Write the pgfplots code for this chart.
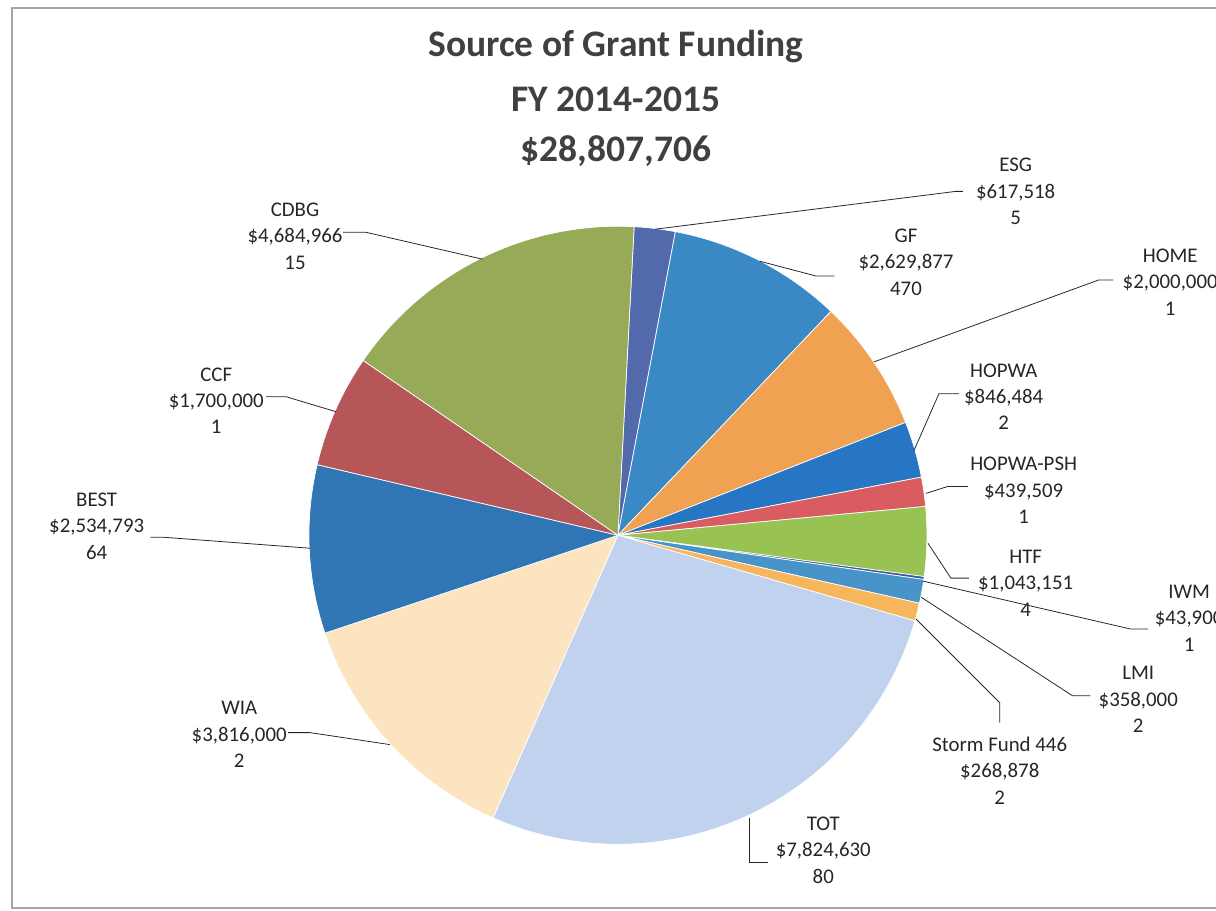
\documentclass[border=0pt]{standalone}
\usepackage{pgfplots}
\usepackage{pgfplotstable}
\pgfplotsset{compat=1.18}
\usepackage{fontspec}
\setmainfont{Carlito}

% slice colours, clockwise from the top
\definecolor{sc0}{RGB}{82,106,172}
\definecolor{sc1}{RGB}{58,137,196}
\definecolor{sc2}{RGB}{240,162,82}
\definecolor{sc3}{RGB}{38,118,196}
\definecolor{sc4}{RGB}{216,92,96}
\definecolor{sc5}{RGB}{152,194,82}
\definecolor{sc6}{RGB}{60,90,160}
\definecolor{sc7}{RGB}{72,148,200}
\definecolor{sc8}{RGB}{248,182,92}
\definecolor{sc9}{RGB}{192,210,238}
\definecolor{sc10}{RGB}{252,228,192}
\definecolor{sc11}{RGB}{48,118,180}
\definecolor{sc12}{RGB}{182,86,88}
\definecolor{sc13}{RGB}{150,170,88}
\definecolor{titlegray}{RGB}{64,64,64}

\tikzset{
  lbl/.style={font=\fontsize{11.9}{15.1}\selectfont, align=center, inner sep=0pt, text=black!85},
  ldr/.style={black!85, line width=0.45pt},
}

\pgfplotstableread{
name value count
ESG 617518 5
GF 2629877 470
HOME 2000000 1
HOPWA 846484 2
HOPWA-PSH 439509 1
HTF 1043151 4
IWM 43900 1
LMI 358000 2
Storm 268878 2
TOT 7824630 80
WIA 3816000 2
BEST 2534793 64
CCF 1700000 1
CDBG 4684966 15
}\grants
\pgfplotstablecreatecol[expr accum={\pgfmathaccuma + \thisrow{value}}{0}]{cum}{\grants}

\begin{document}
% slice angles (clockwise, first slice starting near 12 o'clock)
\foreach \i in {0,...,13}{%
  \pgfplotstablegetelem{\i}{cum}\of\grants \let\cumv\pgfplotsretval
  \pgfplotstablegetelem{\i}{value}\of\grants \let\valv\pgfplotsretval
  \pgfkeys{/pgf/fpu=true,/pgf/fpu/output format=fixed}%
  \pgfmathparse{87-360*\cumv/28807706}%
  \expandafter\xdef\csname endA\i\endcsname{\pgfmathresult}%
  \pgfmathparse{87-360*(\cumv-\valv)/28807706}%
  \expandafter\xdef\csname startA\i\endcsname{\pgfmathresult}%
  \pgfkeys{/pgf/fpu=false}%
}
\begin{tikzpicture}
\begin{axis}[
    scale only axis,
    width=24.32cm, height=18.26cm,
    xmin=0, xmax=1216, ymin=0, ymax=913,
    y dir=reverse,
    hide axis,
    clip=false,
]
% frame
\draw[black!35, line width=0.8pt] (axis cs:1240,8) -- (axis cs:8,8) -- (axis cs:8,911) -- (axis cs:1240,911);

% pie
\pgfplotsinvokeforeach{0,...,13}{
  \fill[sc#1, draw=white, line width=0.4pt] (axis cs:616,537) -- ++(\csname startA#1\endcsname:6.2cm)
    arc[start angle=\csname startA#1\endcsname, end angle=\csname endA#1\endcsname, radius=6.2cm] -- cycle;
}

% title
\node[font=\fontsize{21.4}{25}\selectfont\bfseries, text=titlegray] at (axis cs:614,47) {Source of Grant Funding};
\node[font=\fontsize{21.4}{25}\selectfont\bfseries, text=titlegray] at (axis cs:614,100) {FY 2014-2015};
\node[font=\fontsize{21.4}{25}\selectfont\bfseries, text=titlegray] at (axis cs:614,152) {\$28,807,706};

% leader lines
\draw[ldr] (axis cs:653,230) -- (axis cs:955,192) -- (axis cs:962,192);
\draw[ldr] (axis cs:758,262) -- (axis cs:815,277) -- (axis cs:833,277);
\draw[ldr] (axis cs:873,363) -- (axis cs:1098,281) -- (axis cs:1113,281);
\draw[ldr] (axis cs:913,452) -- (axis cs:938,395) -- (axis cs:958,395);
\draw[ldr] (axis cs:925,495) -- (axis cs:947,488) -- (axis cs:967,488);
\draw[ldr] (axis cs:927,545) -- (axis cs:950,580) -- (axis cs:968,580);
\draw[ldr] (axis cs:922,583) -- (axis cs:1130,631) -- (axis cs:1148,631);
\draw[ldr] (axis cs:920,599) -- (axis cs:1072,698) -- (axis cs:1090,698);
\draw[ldr] (axis cs:915,621) -- (axis cs:999,705) -- (axis cs:999,725);
\draw[ldr] (axis cs:748,821) -- (axis cs:748,865) -- (axis cs:767,865);
\draw[ldr] (axis cs:285,735) -- (axis cs:307,735) -- (axis cs:387,747);
\draw[ldr] (axis cs:147,539) -- (axis cs:160,539) -- (axis cs:307,550);
\draw[ldr] (axis cs:263,398) -- (axis cs:283,398) -- (axis cs:333,413);
\draw[ldr] (axis cs:340,233) -- (axis cs:363,233) -- (axis cs:480,260);

% data labels
\node[lbl] at (axis cs:1015,192) {ESG\\\$617,518\\5};
\node[lbl] at (axis cs:905,263) {GF\\\$2,629,877\\470};
\node[lbl] at (axis cs:1170,283) {HOME\\\$2,000,000\\1};
\node[lbl] at (axis cs:1003,398) {HOPWA\\\$846,484\\2};
\node[lbl] at (axis cs:1023,492) {HOPWA-PSH\\\$439,509\\1};
\node[lbl] at (axis cs:1025,585) {HTF\\\$1,043,151\\4};
\node[lbl] at (axis cs:1189,620) {IWM\\\$43,900\\1};
\node[lbl] at (axis cs:1138,702) {LMI\\\$358,000\\2};
\node[lbl] at (axis cs:999,773) {Storm Fund 446\\\$268,878\\2};
\node[lbl] at (axis cs:822,853) {TOT\\\$7,824,630\\80};
\node[lbl] at (axis cs:236,737) {WIA\\\$3,816,000\\2};
\node[lbl] at (axis cs:93,528) {BEST\\\$2,534,793\\64};
\node[lbl] at (axis cs:213,402) {CCF\\\$1,700,000\\1};
\node[lbl] at (axis cs:292,237) {CDBG\\\$4,684,966\\15};
\end{axis}
\pgfresetboundingbox
\useasboundingbox (0,0) rectangle (24.32cm,18.26cm);
\end{tikzpicture}
\end{document}
